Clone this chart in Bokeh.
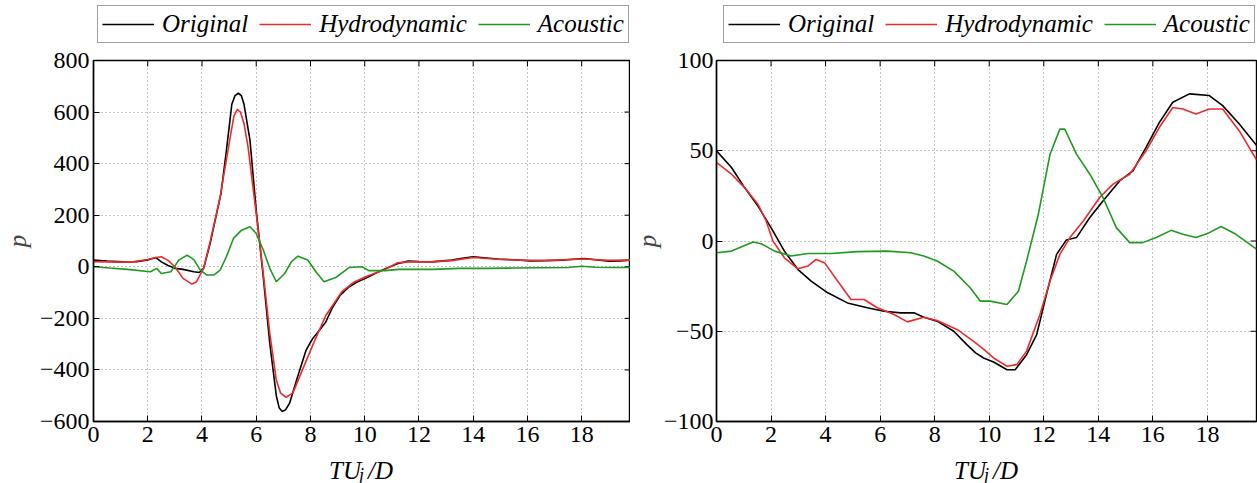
from bokeh.plotting import figure
from bokeh.models import Legend, LegendItem, LinearAxis, Range1d, FixedTicker, Label
from bokeh.layouts import row, column
from bokeh.embed import file_html
from bokeh.resources import INLINE

# ---- left panel: full pressure signal ----
left_orig_t = [0.0, 0.5, 1.1, 1.6, 2.0, 2.3, 2.5, 2.75, 3.0, 3.3, 3.7, 3.9, 4.06, 4.3, 4.7, 4.9,
               5.1, 5.22, 5.34, 5.45, 5.55, 5.77, 6.0, 6.26, 6.5, 6.74, 6.85, 6.96, 7.08, 7.23,
               7.5, 7.84, 8.07, 8.3, 8.56, 8.8, 9.1, 9.4, 9.7, 10.03, 10.4, 10.76, 11.2, 11.6,
               12.0, 12.47, 13.2, 13.6, 14.0, 14.5, 14.9, 15.5, 16.1, 16.7, 17.3, 17.7, 18.1,
               18.5, 19.0, 19.4, 19.8]
left_orig_p = [26, 22, 19, 20, 26, 36, 19, 5, -6, -10, -19, -22, -6, 90, 284, 451,
               630, 664, 673, 664, 630, 490, 219, -39, -297, -500, -548, -561, -555, -529,
               -435, -323, -280, -250, -215, -160, -110, -80, -60, -45, -25, -8, 12, 22,
               20, 19, 26, 33, 39, 34, 30, 27, 23, 24, 26, 29, 32,
               27, 22, 23, 26]

left_hydro_t = [0.0, 0.5, 1.0, 1.5, 2.0, 2.3, 2.5, 2.75, 3.0, 3.3, 3.63, 3.8, 4.06, 4.3, 4.67,
                5.04, 5.18, 5.3, 5.42, 5.55, 5.7, 6.0, 6.26, 6.5, 6.74, 6.9, 7.1, 7.35, 7.6,
                8.1, 8.56, 9.17, 9.6, 10.03, 10.5, 10.76, 11.2, 11.6, 12.47, 13.2, 14.0, 14.5,
                15.0, 16.1, 17.0, 18.1, 19.0, 19.8]
left_hydro_p = [20, 19, 18, 20, 28, 36, 39, 25, 0, -45, -67, -58, -6, 97, 271,
                503, 585, 610, 600, 555, 464, 206, -26, -258, -439, -490, -506, -490, -426,
                -300, -190, -95, -60, -39, -20, -10, 15, 19, 19, 24, 36, 32,
                28, 25, 26, 30, 25, 26]

left_acou_t = [0.0, 0.6, 1.25, 2.1, 2.33, 2.5, 2.85, 3.15, 3.45, 3.7, 3.94, 4.18, 4.43, 4.67,
               4.9, 5.16, 5.46, 5.77, 6.0, 6.26, 6.5, 6.74, 7.05, 7.3, 7.54, 7.9, 8.2, 8.5, 8.93,
               9.42, 9.9, 10.15, 10.76, 11.25, 12.5, 13.5, 14.5, 15.5, 16.5, 17.5, 18.0, 18.5,
               19.2, 19.8]
left_acou_p = [0, -5, -10, -19, -6, -26, -19, 26, 45, 28, -13, -32, -32, -13,
               39, 110, 142, 155, 129, 65, -6, -58, -26, 20, 41, 26, -19, -58, -42,
               -3, 0, -15, -15, -10, -10, -6, -6, -5, -4, -3, 2, -2,
               -3, -3]

# ---- right panel: zoomed view of the low-amplitude signal ----
right_orig_t = [0.0, 0.55, 1.03, 1.52, 2.0, 2.49, 2.98, 3.47, 4.08, 4.8, 5.53, 6.14, 6.75, 7.24,
                7.6, 8.09, 8.7, 9.18, 9.5, 9.79, 10.16, 10.65, 10.95, 11.37, 11.74, 12.1, 12.47,
                12.83, 13.2, 13.69, 14.17, 14.78, 15.27, 15.75, 16.24, 16.73, 17.34, 18.07,
                18.56, 19.17, 19.8]
right_orig_p = [50, 40.7, 29.6, 19.4, 7.4, -5.6, -15.7, -22.2, -28.7, -34.3, -37, -38.9, -39.8,
                -39.8, -42.2, -44.4, -50, -57.4, -62, -64.8, -67, -71.3, -71.3, -63, -51.9, -29.6,
                -7.4, 0.6, 1.9, 13, 22.2, 33.3, 38.9, 51.9, 65.7, 76.9, 81.5, 80.6,
                75, 64.8, 53]

right_hydro_t = [0.0, 0.55, 1.03, 1.52, 1.82, 2.07, 2.49, 2.98, 3.35, 3.65, 3.96, 4.44, 4.93,
                 5.41, 5.9, 6.51, 7.0, 7.6, 8.09, 8.82, 9.43, 9.8, 10.16, 10.65, 11.01, 11.37,
                 11.86, 12.23, 12.59, 12.96, 13.45, 14.05, 14.54, 15.15, 15.75, 16.24, 16.73,
                 17.1, 17.58, 18.07, 18.56, 19.17, 19.8]
right_hydro_p = [43.5, 37, 29.6, 20.4, 11.1, 0, -9.3, -15.4, -13.9, -10.2, -12, -22.2, -32.4,
                 -32.4, -37, -40.7, -44.8, -42.2, -44, -49, -55.6, -60, -64.8, -69.4, -68.5, -61,
                 -40.7, -22.2, -7.4, 1.9, 11.1, 24.1, 31.5, 37, 50, 63, 74,
                 73.1, 70.4, 73.1, 73.1, 61, 45]

right_acou_t = [0.0, 0.55, 1.34, 1.64, 2.13, 2.74, 3.35, 4.2, 5.17, 6.26, 7.12, 7.6, 8.09, 8.7,
                9.3, 9.67, 10.04, 10.65, 11.07, 11.37, 11.8, 12.23, 12.59, 12.77, 13.2, 13.69,
                14.17, 14.66, 15.15, 15.63, 16.12, 16.67, 17.1, 17.58, 18.0, 18.5, 19.05, 19.8]
right_acou_p = [-6.5, -5.6, -0.6, -1.5, -5.6, -8.3, -6.9, -6.9, -5.9, -5.6, -6.5, -8.3, -11.1,
                -16.7, -25.9, -33.3, -33.3, -35.2, -27.8, -11.1, 14.8, 48.1, 62, 62, 48.1, 37,
                24.1, 7.4, -0.9, -0.9, 1.9, 5.9, 3.7, 1.9, 4.1, 8, 3.7, -4.5]

left_yticks = [-600, -400, -200, 0, 200, 400, 600, 800]
right_yticks = [-100, -50, 0, 50, 100]
x_ticks = [0, 2, 4, 6, 8, 10, 12, 14, 16, 18]
x_max = 19.8
series_names = ["Original", "Hydrodynamic", "Acoustic"]
series_colors = ["#000000", "#ee2b2b", "#1e9a1e"]

FONT = "Liberation Serif"
LEGEND_H = 48      # strip holding the legend box
MAIN_H = 407       # plotting area incl. tick labels
XLAB_H = 28        # strip holding the x axis title
TOP, BOTTOM = 12, 34
TICK_PX = 6


def minus(v):
    return str(v).replace("-", "\u2212")


def blank_strip(width, height):
    s = figure(width=width, height=height, output_backend="svg", toolbar_location=None,
               x_range=Range1d(0, 1), y_range=Range1d(0, 1),
               min_border_left=0, min_border_right=0, min_border_top=0, min_border_bottom=0,
               x_axis_location=None, y_axis_location=None)
    s.outline_line_color = None
    s.grid.visible = False
    s.background_fill_color = "white"
    s.border_fill_color = "white"
    return s


def legend_strip(width, x_off):
    # the frame of this strip lines up with the frame of the plot beneath it
    s = blank_strip(width, LEGEND_H)
    items = []
    for name, col in zip(series_names, series_colors):
        r = s.line(x=[-1], y=[-1], line_color=col, line_width=1.6)
        items.append(LegendItem(label=name, renderers=[r]))
    legend = Legend(items=items, orientation="horizontal", location=(x_off, 5),
                    label_text_font=FONT, label_text_font_style="italic",
                    label_text_font_size="25px", label_text_color="black",
                    border_line_color="#444444", border_line_width=1,
                    glyph_width=52, glyph_height=20, label_standoff=8, spacing=11,
                    padding=4, margin=0, label_height=22)
    s.add_layout(legend, "center")
    return s


def xlabel_strip(width, fw):
    s = blank_strip(width, XLAB_H)
    cx = fw / 2.0
    lab_kw = dict(x_units="screen", y_units="screen", text_font=FONT,
                  text_font_style="italic", text_color="black", text_baseline="alphabetic")
    s.add_layout(Label(x=cx - 33, y=13, text="TU", text_font_size="25px", **lab_kw))
    s.add_layout(Label(x=cx - 3, y=9, text="j", text_font_size="18px", **lab_kw))
    s.add_layout(Label(x=cx + 6, y=13, text="/D", text_font_size="25px", **lab_kw))
    return s


def main_plot(series, y_lo, y_hi, y_ticks, width, border_left, border_right,
              tick_standoff, label_standoff):
    p = figure(width=width, height=MAIN_H, output_backend="svg", toolbar_location=None,
               x_range=Range1d(0, x_max), y_range=Range1d(y_lo, y_hi),
               min_border_left=border_left, min_border_right=border_right,
               min_border_top=TOP, min_border_bottom=BOTTOM,
               x_axis_location=None, y_axis_location=None)
    p.outline_line_color = "black"
    p.outline_line_width = 1.4
    p.background_fill_color = "white"
    p.border_fill_color = "white"

    fw = width - border_left - border_right
    fh = MAIN_H - TOP - BOTTOM

    xt = FixedTicker(ticks=x_ticks)
    yt = FixedTicker(ticks=y_ticks)

    xa = LinearAxis(ticker=xt)
    ya = LinearAxis(ticker=yt)
    for ax in (xa, ya):
        ax.major_tick_in = TICK_PX
        ax.major_tick_out = 0
        ax.minor_tick_line_color = None
        ax.axis_line_color = "black"
        ax.axis_line_width = 1.4
        ax.major_tick_line_color = "black"
        ax.major_label_text_font = FONT
        ax.major_label_text_font_size = "24px"
        ax.major_label_text_color = "black"
    xa.major_label_standoff = 5
    ya.major_label_standoff = tick_standoff
    ya.major_label_overrides = {v: minus(v) for v in y_ticks}
    ya.axis_label = "p"
    ya.axis_label_text_font = FONT
    ya.axis_label_text_font_style = "italic"
    ya.axis_label_text_font_size = "25px"
    ya.axis_label_standoff = label_standoff
    p.add_layout(xa, "below")
    p.add_layout(ya, "left")

    # dotted grid on the major ticks
    p.xgrid.ticker = xt
    p.ygrid.ticker = yt
    p.grid.grid_line_color = "#8a8a8a"
    p.grid.grid_line_dash = "1 3"
    p.grid.grid_line_width = 1

    # inward tick marks on the top and right edges of the frame
    dy = TICK_PX * (y_hi - y_lo) / fh
    dx = TICK_PX * x_max / fw
    p.segment(x0=x_ticks, x1=x_ticks, y0=[y_hi] * len(x_ticks), y1=[y_hi - dy] * len(x_ticks),
              line_color="black", line_width=1)
    p.segment(x0=[x_max] * len(y_ticks), x1=[x_max - dx] * len(y_ticks), y0=y_ticks, y1=y_ticks,
              line_color="black", line_width=1)

    for (t, v), col in zip(series, series_colors):
        p.line(t, v, line_color=col, line_width=1.6)
    return p, fw


LEFT_W, RIGHT_W = 630, 627
LEFT_B, RIGHT_B = 93, 85

left_main, left_fw = main_plot([(left_orig_t, left_orig_p), (left_hydro_t, left_hydro_p),
                                (left_acou_t, left_acou_p)], -600, 800, left_yticks,
                               LEFT_W, LEFT_B, 0, 4, 6)
right_main, right_fw = main_plot([(right_orig_t, right_orig_p), (right_hydro_t, right_hydro_p),
                                  (right_acou_t, right_acou_p)], -100, 100, right_yticks,
                                 RIGHT_W, RIGHT_B, 1, 3, 0)

left_col = column(legend_strip(LEFT_W, 4), left_main,
                  xlabel_strip(LEFT_W, left_fw), spacing=0)
right_col = column(legend_strip(RIGHT_W, 7), right_main,
                   xlabel_strip(RIGHT_W, right_fw), spacing=0)

layout = row(left_col, right_col, spacing=0)
open("out.html", "w").write(file_html(layout, INLINE))
